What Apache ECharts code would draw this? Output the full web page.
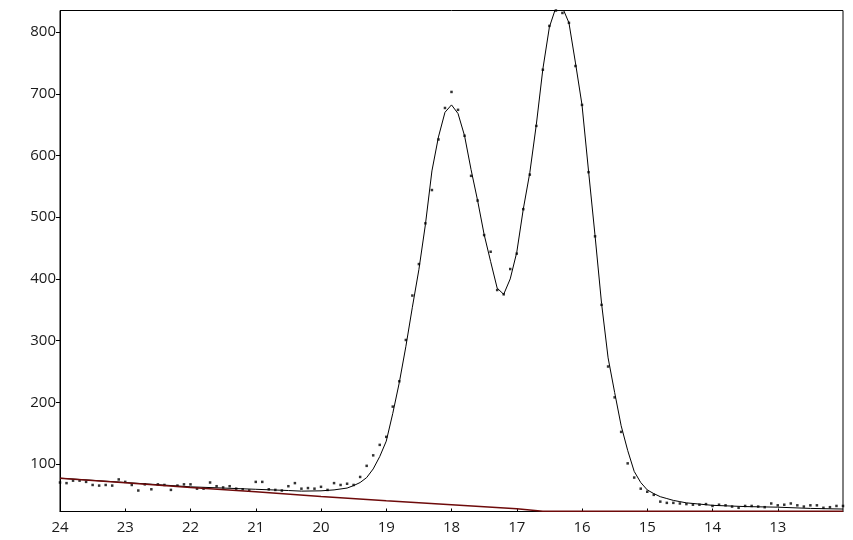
<!DOCTYPE html>
<html>
<head>
<meta charset="utf-8">
<script src="https://cdn.jsdelivr.net/npm/echarts@6/dist/echarts.min.js"></script>
<style>html,body{margin:0;padding:0;background:#fff}#c{width:853px;height:540px}</style>
</head>
<body>
<div id="c"></div>
<script>
// Measured points: x from 24.0 down to 12.0 in steps of 0.1
const pointStartX = 24.0;
const pointStepX = 0.1;
const pointValues = [
  70,69,73,73,71,66,65,66,65,75,
  71,66,57,67,59,67,66,58,65,67,
  67,60,60,70,64,62,64,60,59,57,
  71,71,59,58,57,64,69,60,61,60,
  63,58,69,66,68,66,79,97,114,131,
  144,193,234,301,373,424,490,544,626,677,
  703,674,632,567,527,471,444,382,375,416,
  441,513,569,648,739,810,835,831,815,745,
  682,573,469,358,258,208,152,101,78,60,
  55,50,39,37,37,36,35,34,34,35,
  32,34,33,31,29,32,32,31,30,36,
  33,34,36,33,31,33,33,29,30,32,
  32
];
// Fitted curve
const fitX = [24,23,22,21,20.5,20.3,20,19.8,19.6,19.5,19.4,19.3,19.2,19.1,19.0,18.9,18.8,18.7,18.6,18.5,18.4,18.3,18.2,18.1,18.0,17.9,17.8,17.7,17.6,17.5,17.4,17.3,17.2,17.1,17.0,16.9,16.8,16.7,16.6,16.5,16.4,16.3,16.2,16.1,16.0,15.9,15.8,15.7,15.6,15.5,15.4,15.3,15.2,15.1,15.0,14.9,14.8,14.7,14.6,14.5,14.4,14.3,14.2,14.1,14.0,13.5,13.0,12.5,12.0];
const fitY = [77,70,63,59,57,56,56.5,58,61,65,70,78,92,112,137,182,232,290,354,415,488,575,630,670,682,668,632,577,527,472,428,385,375,400,443,513,572,650,740,808,840,840,815,750,682,575,470,360,272,216,162,122,88,70,58,52,47,44,41,39,37,36,35,34,33,31,30,28,27];
// Baseline
const baseX = [24,23,22,21,20,19,18,17,16.6,12];
const baseY = [77,69.5,62,55,47.5,40.5,34,27.5,23.3,23.3];
// Tick labels
const xTicks = [24,23,22,21,20,19,18,17,16,15,14,13];
const yTicks = [100,200,300,400,500,600,700,800];

const points = pointValues.map((v, i) => [+(pointStartX - i * pointStepX).toFixed(1), v]);
const fit = fitX.map((x, i) => [x, fitY[i]]);
const base = baseX.map((x, i) => [x, baseY[i]]);

const chart = echarts.init(document.getElementById('c'), null, {renderer: 'canvas'});
const font = {fontFamily: '"Open Sans", "DejaVu Sans", sans-serif', fontSize: 15, color: '#1a1a1a'};
chart.setOption({
  animation: false,
  backgroundColor: '#fff',
  grid: {left: 60, right: 10, top: 10.5, bottom: 28.5, show: true, borderColor: '#000', borderWidth: 1, backgroundColor: 'transparent'},
  xAxis: {
    type: 'value', min: 12, max: 24, inverse: true,
    axisLine: {show: true, lineStyle: {color: '#000', width: 1}},
    axisTick: {show: true, inside: true, length: 3, lineStyle: {color: '#000'}, customValues: xTicks},
    axisLabel: Object.assign({margin: 9, customValues: xTicks}, font),
    splitLine: {show: false}
  },
  yAxis: {
    type: 'value', min: 23, max: 835,
    axisLine: {show: true, lineStyle: {color: '#000', width: 1}},
    axisTick: {show: true, inside: false, length: 4, lineStyle: {color: '#000'}, customValues: yTicks},
    axisLabel: Object.assign({margin: 4, customValues: yTicks}, font),
    splitLine: {show: false}
  },
  series: [
    {type: 'line', data: base, showSymbol: false, clip: false, lineStyle: {color: '#6e0a0a', width: 1.5}, z: 5, silent: true},
    {type: 'line', data: fit, showSymbol: false, lineStyle: {color: '#000', width: 1}, z: 3, silent: true},
    {type: 'scatter', data: points, symbol: 'rect', symbolSize: 2.5, itemStyle: {color: '#000'}, z: 4, silent: true}
  ]
});
</script>
</body>
</html>
